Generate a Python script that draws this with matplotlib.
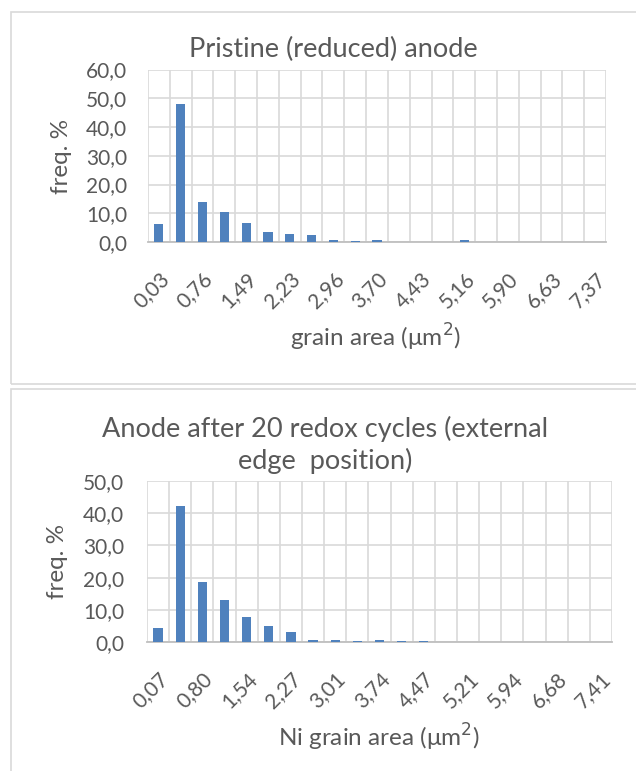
import matplotlib
matplotlib.use("Agg")
import matplotlib.pyplot as plt
from matplotlib.patches import Rectangle

plt.rcParams['font.family'] = ['Lato', 'DejaVu Sans']

# top chart: pristine anode
top_cats = ["0,03", "0,40", "0,76", "1,13", "1,49", "1,86", "2,23", "2,59", "2,96", "3,33",
            "3,70", "4,06", "4,43", "4,80", "5,16", "5,53", "5,90", "6,26", "6,63", "7,00", "7,37"]
top_freq = [6.4, 48.1, 13.8, 10.3, 6.7, 3.4, 2.7, 2.6, 0.8, 0.2,
            0.6, 0.0, 0.1, 0.0, 0.6, 0.0, 0.0, 0.0, 0.0, 0.0, 0.0]

# bottom chart: after 20 redox cycles
bot_cats = ["0,07", "0,44", "0,80", "1,17", "1,54", "1,91", "2,27", "2,64", "3,01", "3,37",
            "3,74", "4,11", "4,47", "4,84", "5,21", "5,58", "5,94", "6,31", "6,68", "7,04", "7,41"]
bot_freq = [4.4, 42.3, 18.5, 13.0, 7.8, 5.1, 3.0, 0.7, 0.7, 0.4,
            0.7, 0.2, 0.2, 0.0, 0.0, 0.0, 0.0, 0.0, 0.0, 0.0, 0.0]

W, H = 636, 771
fig = plt.figure(figsize=(W / 100, H / 100), dpi=100)
txt = '#595959'
grid = '#d9d9d9'
bar_col = '#4f81bd'


def box(x0, y0, x1, y1):
    # pixel coords (top-left origin) -> figure fraction
    return [x0 / W, 1 - y1 / H, (x1 - x0) / W, (y1 - y0) / H]


def ftext(x, y, s, **kw):
    fig.text(x / W, 1 - y / H, s, ha='center', va='center', color=txt, **kw)


# panel borders
fig.patches.append(Rectangle((10.5 / W, 1 - 384 / H), 640 / W, (384 - 12.5) / H,
                             transform=fig.transFigure, fill=False, ec='#d9d9d9', lw=1.2))
fig.patches.append(Rectangle((10.5 / W, -0.05), 640 / W, 1 - 389 / H + 0.05,
                             transform=fig.transFigure, fill=False, ec='#d9d9d9', lw=1.2))


def draw(ax, cats, vals, ymax, ypad):
    n = len(cats)
    ax.bar(range(n), vals, width=0.42, color=bar_col, zorder=3)
    ax.set_xlim(-0.5, n - 0.5)
    ax.set_ylim(0, ymax)
    ax.set_yticks(range(0, ymax + 1, 10))
    ax.set_yticklabels([f"{v},0" for v in range(0, ymax + 1, 10)])
    ax.set_xticks(range(0, n, 2))
    ax.set_xticklabels(cats[::2], rotation=45, ha='right', rotation_mode='anchor')
    ax.set_xticks([i - 0.5 for i in range(n + 1)], minor=True)
    ax.tick_params(which='both', length=0, colors=txt, labelsize=15)
    ax.tick_params(axis='x', pad=19)
    ax.tick_params(axis='y', pad=ypad)
    ax.grid(which='minor', axis='x', color=grid, lw=1.2, zorder=0)
    ax.grid(which='major', axis='y', color=grid, lw=1.2, zorder=0)
    for s in ['top', 'right', 'left']:
        ax.spines[s].set_visible(False)
    ax.spines['bottom'].set_color('#bfbfbf')
    ax.spines['bottom'].set_linewidth(1.3)


ax1 = fig.add_axes(box(148, 69.5, 606, 242))
draw(ax1, top_cats, top_freq, 60, 15)
ftext(333, 49, "Pristine (reduced) anode", fontsize=19.5)
ftext(61, 156, "freq. %", fontsize=17.5, rotation=90)
ftext(376, 337, "grain area (\u03bcm$^2$)", fontsize=17.5)

ax2 = fig.add_axes(box(147, 481, 612, 642))
draw(ax2, bot_cats, bot_freq, 50, 16.5)
ftext(325, 445, "Anode after 20 redox cycles (external\nedge  position)",
      fontsize=19.5, linespacing=1.3)
ftext(57, 561, "freq. %", fontsize=17.5, rotation=90)
ftext(379, 737, "Ni grain area (\u03bcm$^2$)", fontsize=17.5)

fig.savefig("out.png", dpi=100)
